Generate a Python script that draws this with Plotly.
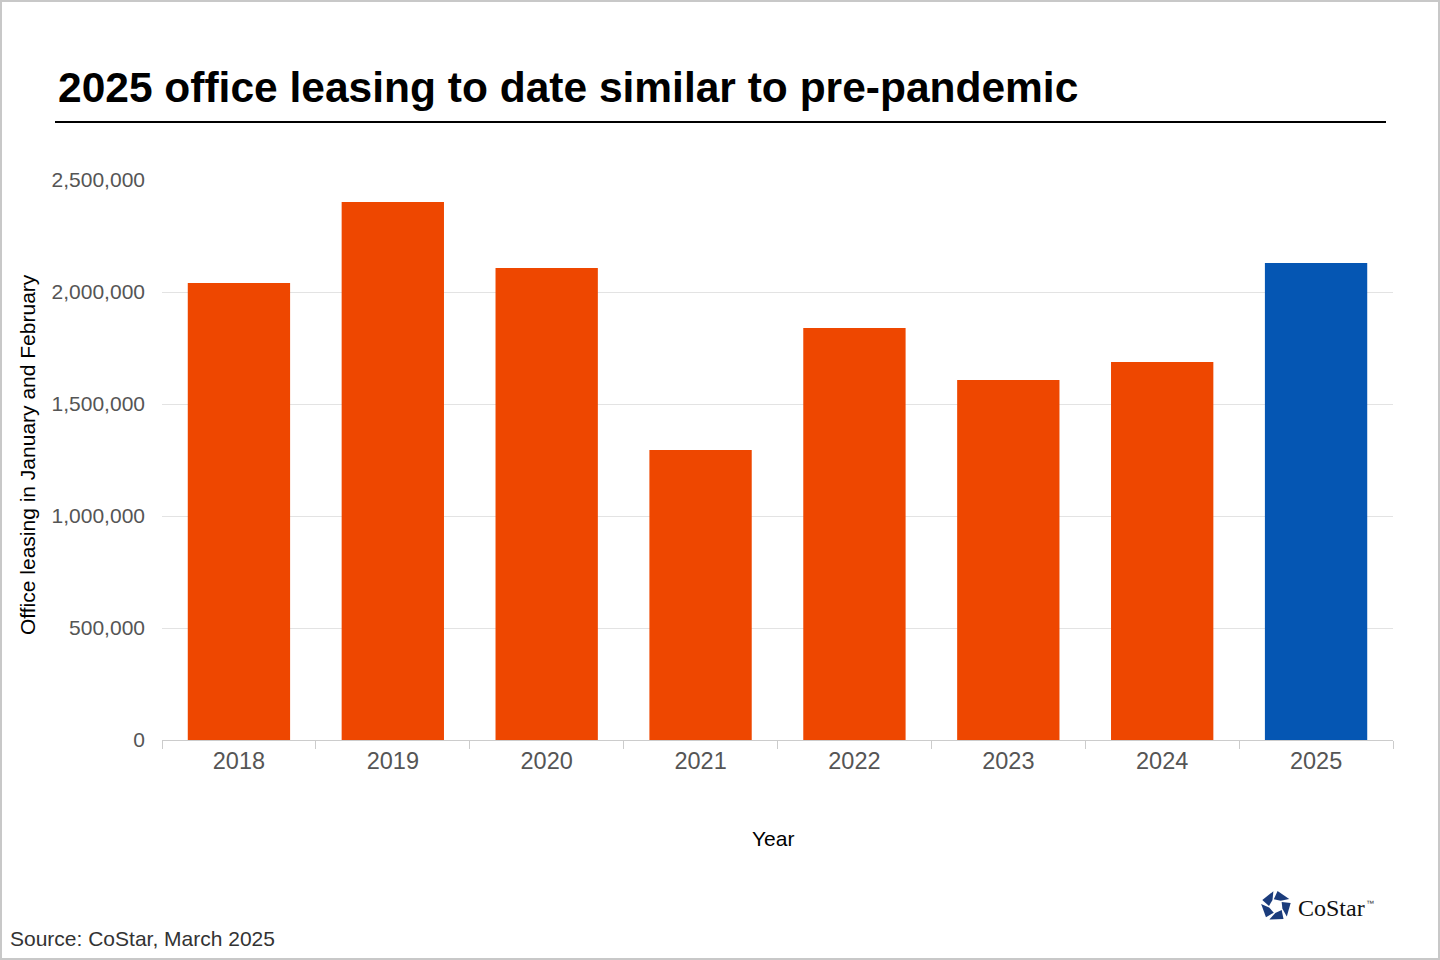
import math
import plotly.graph_objects as go

years = ["2018", "2019", "2020", "2021", "2022", "2023", "2024", "2025"]
leasing = [2040000, 2402000, 2107000, 1295000, 1839000, 1607000, 1688000, 2129000]
y_ticks = [0, 500000, 1000000, 1500000, 2000000, 2500000]

ORANGE = "#EE4700"
BLUE = "#0556B3"
bar_colors = [BLUE if y == "2025" else ORANGE for y in years]

W, H = 1440, 960
L, R, T, B = 162, 47, 180, 220
PW, PH = W - L - R, H - T - B

def px(x):
    return (x - L) / PW

def py(y):
    return (H - B - y) / PH

fig = go.Figure(go.Bar(
    x=years, y=leasing, marker=dict(color=bar_colors, line=dict(width=0)),
    hoverinfo="x+y",
))

shapes = [
    dict(type="rect", xref="paper", yref="paper", x0=px(1), x1=px(W - 1), y0=py(H - 1), y1=py(1),
         line=dict(color="#c8c8c8", width=2), fillcolor="rgba(0,0,0,0)", layer="below"),
    dict(type="line", xref="paper", yref="paper", x0=px(55), x1=px(1386), y0=py(122), y1=py(122),
         line=dict(color="#000000", width=2)),
]

# CoStar logo mark: pinwheel ring of five quads
cx, cy = 1276, 906
for k in range(5):
    th = math.radians(100 + 72 * k)
    pts = [
        (cx + 15 * math.cos(th), cy - 15 * math.sin(th)),
        (cx + 15 * math.cos(th + math.radians(56)), cy - 15 * math.sin(th + math.radians(56))),
        (cx + 7 * math.cos(th + math.radians(80)), cy - 7 * math.sin(th + math.radians(80))),
        (cx + 7 * math.cos(th + math.radians(20)), cy - 7 * math.sin(th + math.radians(20))),
    ]
    path = "M " + " L ".join(f"{px(x):.5f},{py(y):.5f}" for x, y in pts) + " Z"
    shapes.append(dict(type="path", xref="paper", yref="paper", path=path,
                       fillcolor="#1B3C7C", line=dict(width=0)))

FONT = "Liberation Sans, Arial"
annotations = [
    dict(text="<b>2025 office leasing to date similar to pre-pandemic</b>", xref="paper", yref="paper",
         x=px(56), y=py(88), xanchor="left", yanchor="middle", showarrow=False,
         font=dict(family=FONT, size=42.5, color="#000000")),
    dict(text="Office leasing in January and February", xref="paper", yref="paper",
         x=px(27), y=py(455), xanchor="center", yanchor="middle", textangle=-90, showarrow=False,
         font=dict(family=FONT, size=21, color="#000000")),
    dict(text="Year", xref="paper", yref="paper", x=px(773), y=py(838), xanchor="center",
         yanchor="middle", showarrow=False,
         font=dict(family=FONT, size=21, color="#000000")),
    dict(text="Source: CoStar, March 2025", xref="paper", yref="paper", x=px(8), y=py(938),
         xanchor="left", yanchor="middle", showarrow=False,
         font=dict(family=FONT, size=21, color="#333333")),
    dict(text="CoStar", xref="paper", yref="paper", x=px(1296), y=py(908),
         xanchor="left", yanchor="middle", showarrow=False,
         font=dict(family="Liberation Serif, Times New Roman", size=24, color="#111111")),
    dict(text="™", xref="paper", yref="paper", x=px(1364), y=py(903),
         xanchor="left", yanchor="middle", showarrow=False,
         font=dict(family=FONT, size=8, color="#333333")),
]

fig.update_layout(
    width=W, height=H,
    margin=dict(l=L, r=R, t=T, b=B, autoexpand=False),
    paper_bgcolor="#ffffff", plot_bgcolor="#ffffff",
    bargap=0.335,
    showlegend=False,
    shapes=shapes,
    annotations=annotations,
    font=dict(family=FONT, color="#555555"),
    xaxis=dict(
        type="category", showgrid=False, showline=True, linecolor="#cccccc", linewidth=1,
        ticks="outside", tickson="boundaries", ticklen=8, tickcolor="#cccccc",
        tickfont=dict(size=23.5, color="#555555"), zeroline=False,
    ),
    yaxis=dict(
        range=[0, 2500000], tickvals=y_ticks, tickformat=",d",
        showgrid=True, gridcolor="#e3e3e3", gridwidth=1, zeroline=False,
        showline=False, ticks="", ticklabelstandoff=16,
        tickfont=dict(size=21, color="#555555"),
    ),
)

fig.write_html(
    "out.html",
    config={"displayModeBar": False},
    post_script="document.body.style.margin='0';document.body.style.overflow='hidden';",
)
